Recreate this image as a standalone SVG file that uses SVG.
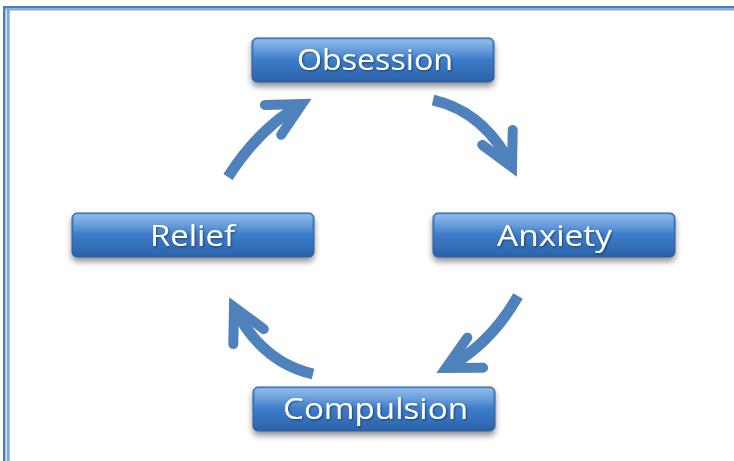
<svg xmlns="http://www.w3.org/2000/svg" width="734" height="461" viewBox="0 0 734 461">
  <defs>
    <style>
      .box { fill: url(#boxGrad); stroke: #2A5A96; stroke-width: 1; filter: url(#boxShadow); }
      .gloss { fill: url(#glossGrad); }
      .label { fill: #FFFFFF; font-family: "Open Sans", "DejaVu Sans", sans-serif; font-size: 30px; text-anchor: middle; filter: url(#textShadow); }
      .shaft { fill: none; stroke: #4F81BD; stroke-width: 11; stroke-linecap: butt; }
      .frameDark { fill: #4A7EBB; }
      .frameLight { fill: #7EA9DE; }
    </style>
    <linearGradient id="boxGrad" x1="0" y1="0" x2="0" y2="1">
      <stop offset="0" stop-color="#62A0E2"/>
      <stop offset="0.5" stop-color="#3D7CC9"/>
      <stop offset="1" stop-color="#2B62A8"/>
    </linearGradient>
    <linearGradient id="glossGrad" x1="0" y1="0" x2="0" y2="1">
      <stop offset="0" stop-color="#FFFFFF" stop-opacity="0.3"/>
      <stop offset="1" stop-color="#FFFFFF" stop-opacity="0"/>
    </linearGradient>
    <filter id="boxShadow" x="-10%" y="-20%" width="120%" height="160%">
      <feGaussianBlur in="SourceAlpha" stdDeviation="3"/>
      <feOffset dx="0" dy="4" result="b"/>
      <feComponentTransfer><feFuncA type="linear" slope="0.45"/></feComponentTransfer>
      <feMerge><feMergeNode/><feMergeNode in="SourceGraphic"/></feMerge>
    </filter>
    <filter id="textShadow" x="-10%" y="-20%" width="120%" height="150%">
      <feDropShadow dx="1" dy="1" stdDeviation="0.8" flood-color="#000000" flood-opacity="0.45"/>
    </filter>
    <marker id="head" markerUnits="userSpaceOnUse" orient="auto" refX="0" refY="0" markerWidth="80" markerHeight="80" overflow="visible">
      <path d="M-33,-17 L0,0 L-33,17" fill="none" stroke="#4F81BD" stroke-width="10" stroke-linejoin="miter" stroke-linecap="round" stroke-miterlimit="6"/>
    </marker>
  </defs>

  <rect width="734" height="461" fill="#FFFFFF"/>

  <g id="frame">
    <rect class="frameDark" x="3" y="6" width="731" height="2.5"/>
    <rect class="frameLight" x="6.5" y="8.5" width="728" height="2"/>
    <rect class="frameDark" x="3" y="6" width="2.5" height="455"/>
    <rect class="frameLight" x="6.7" y="8.5" width="3" height="453"/>
  </g>

  <g id="connectors">
    <path class="shaft" d="M228,177 Q260,127 302,104" marker-end="url(#head)"/>
    <path class="shaft" d="M433,100 Q485,112 512,167" marker-end="url(#head)"/>
    <path class="shaft" d="M518,296 Q490,345 446,368" marker-end="url(#head)"/>
    <path class="shaft" d="M313,374 Q261,362 234,307" marker-end="url(#head)"/>
  </g>

  <g id="obsession">
    <rect class="box" x="252" y="38" width="242" height="44" rx="5"/>
    <rect class="gloss" x="254" y="39.5" width="238" height="20" rx="4"/>
    <text class="label" x="375" y="70" textLength="156" lengthAdjust="spacingAndGlyphs">Obsession</text>
  </g>

  <g id="anxiety">
    <rect class="box" x="433" y="213" width="242" height="44" rx="5"/>
    <rect class="gloss" x="435" y="214.5" width="238" height="20" rx="4"/>
    <text class="label" x="554.5" y="246" textLength="115" lengthAdjust="spacingAndGlyphs">Anxiety</text>
  </g>

  <g id="compulsion">
    <rect class="box" x="253" y="387" width="242" height="44" rx="5"/>
    <rect class="gloss" x="255" y="388.5" width="238" height="20" rx="4"/>
    <text class="label" x="375.5" y="419" textLength="185" lengthAdjust="spacingAndGlyphs">Compulsion</text>
  </g>

  <g id="relief">
    <rect class="box" x="72" y="213" width="242" height="44" rx="5"/>
    <rect class="gloss" x="74" y="214.5" width="238" height="20" rx="4"/>
    <text class="label" x="192.5" y="246" textLength="85" lengthAdjust="spacingAndGlyphs">Relief</text>
  </g>
</svg>
